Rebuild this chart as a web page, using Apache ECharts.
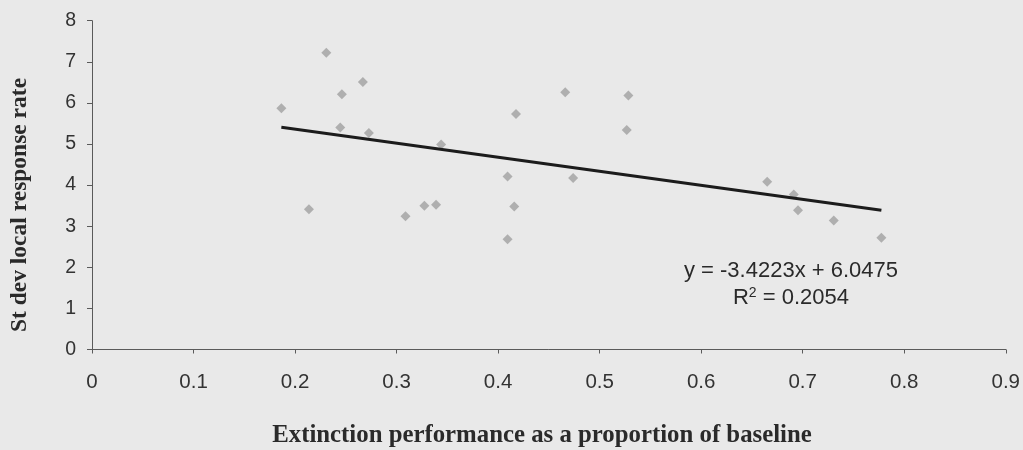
<!DOCTYPE html>
<html>
<head>
<meta charset="utf-8">
<script src="https://cdn.jsdelivr.net/npm/echarts@6/dist/echarts.min.js"></script>
<style>
html,body{margin:0;padding:0;background:#e9e9e9;}
#chart{width:1023px;height:450px;}
</style>
</head>
<body>
<div id="chart"></div>
<script>
// Data
const xValues = [0.1865, 0.2137, 0.2308, 0.2445, 0.2461, 0.2668, 0.2727, 0.3088, 0.3274, 0.3389, 0.3439,
                 0.4093, 0.4093, 0.4159, 0.4176, 0.4661, 0.4739, 0.5267, 0.5283, 0.6650, 0.6912, 0.6954, 0.7306, 0.7775];
const yValues = [5.87, 3.41, 7.22, 5.40, 6.21, 6.51, 5.27, 3.24, 3.50, 3.52, 4.99,
                 4.21, 2.68, 3.48, 5.73, 6.26, 4.17, 5.34, 6.18, 4.08, 3.77, 3.39, 3.14, 2.72];
const trendSlope = -3.4223;
const trendIntercept = 6.0475;
const equationText = 'y = -3.4223x + 6.0475';
const r2Text = 'R{sup|2} = 0.2054';
const xTitle = 'Extinction performance as a proportion of baseline';
const yTitle = 'St dev local response rate';

const points = xValues.map((x, i) => [x, yValues[i]]);
const xMin = Math.min(...xValues), xMax = Math.max(...xValues);
const trend = [[xMin, trendSlope * xMin + trendIntercept], [xMax, trendSlope * xMax + trendIntercept]];

const chart = echarts.init(document.getElementById('chart'));
chart.setOption({
  backgroundColor: '#e9e9e9',
  animation: false,
  grid: { left: 92, right: 16, top: 20.7, bottom: 100.5 },
  xAxis: {
    type: 'value', min: 0, max: 0.9, interval: 0.1,
    splitLine: { show: false },
    axisLine: { show: true, onZero: false, lineStyle: { color: '#5a5a5a', width: 1 } },
    axisTick: { show: true, length: 4, lineStyle: { color: '#5a5a5a' } },
    axisLabel: { margin: 22, fontFamily: 'Liberation Sans', fontSize: 20.5, color: '#333',
                 formatter: v => String(+v.toFixed(1)) }
  },
  yAxis: {
    type: 'value', min: 0, max: 8, interval: 1,
    splitLine: { show: false },
    axisLine: { show: true, onZero: false, lineStyle: { color: '#5a5a5a', width: 1 } },
    axisTick: { show: true, length: 5, lineStyle: { color: '#5a5a5a' } },
    axisLabel: { margin: 16, fontFamily: 'Liberation Sans', fontSize: 19.5, color: '#333' }
  },
  series: [
    {
      type: 'scatter', data: points, symbol: 'diamond', symbolSize: 10,
      itemStyle: { color: '#a0a0a0' }, z: 2
    },
    {
      type: 'line', data: trend, symbol: 'none',
      lineStyle: { color: '#1c1c1c', width: 3 }, z: 3
    }
  ],
  graphic: [
    {
      type: 'text', x: 791, y: 271,
      style: { text: equationText, fontFamily: 'Liberation Sans', fontSize: 22, fill: '#2a2a2a',
               align: 'center', verticalAlign: 'middle' }
    },
    {
      type: 'text', x: 791, y: 298,
      style: { text: r2Text, fontFamily: 'Liberation Sans', fontSize: 22, fill: '#2a2a2a',
               align: 'center', verticalAlign: 'middle',
               rich: { sup: { fontSize: 14, verticalAlign: 'top', padding: [0, 0, 10, 0], fontFamily: 'Liberation Sans', fill: '#2a2a2a' } } }
    },
    {
      type: 'text', x: 542, y: 436,
      style: { text: xTitle, fontFamily: 'Liberation Serif', fontWeight: 'bold', fontSize: 24.8, fill: '#2a2a2a',
               align: 'center', verticalAlign: 'middle' }
    },
    {
      type: 'text', x: 20, y: 205, rotation: Math.PI / 2,
      style: { text: yTitle, fontFamily: 'Liberation Serif', fontWeight: 'bold', fontSize: 23.5, fill: '#2a2a2a',
               align: 'center', verticalAlign: 'middle' }
    }
  ]
});
</script>
</body>
</html>
